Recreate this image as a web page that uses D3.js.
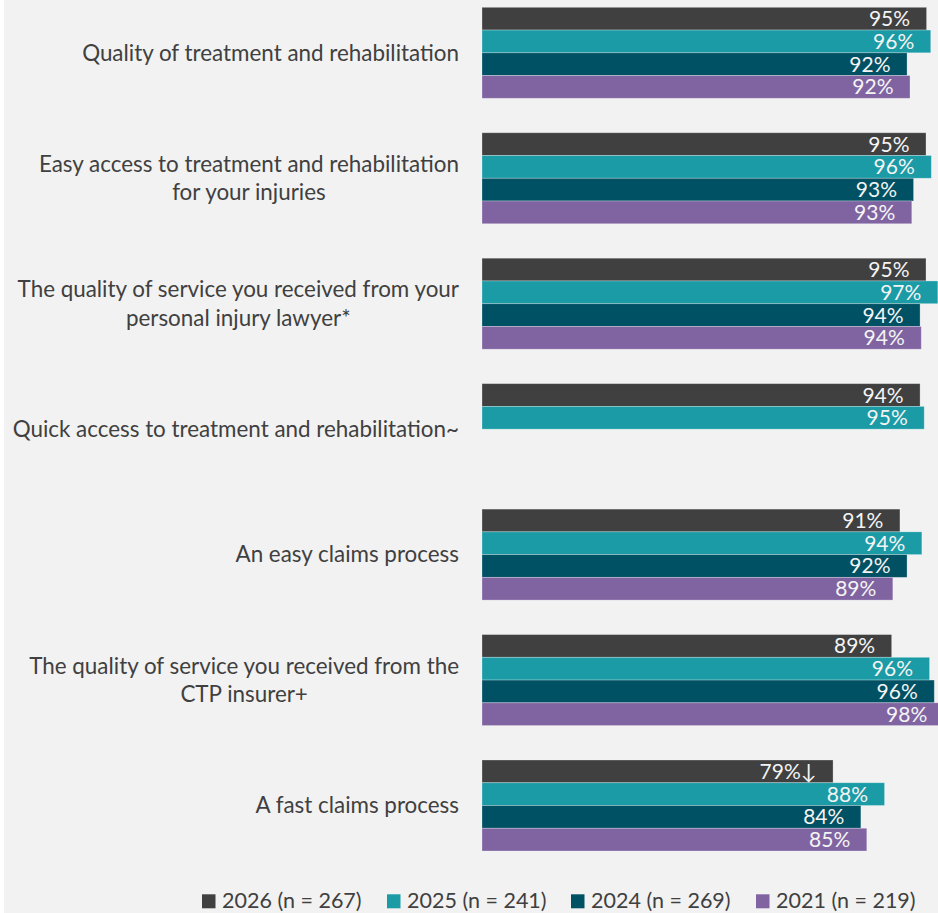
<!DOCTYPE html>
<html>
<head>
<meta charset="utf-8">
<script src="https://cdn.jsdelivr.net/npm/d3@7"></script>
<style>
  html, body { margin: 0; padding: 0; background: #ffffff; }
  svg { display: block; }
</style>
</head>
<body>
<svg id="chart" width="938" height="913"></svg>
<script>
// ---- data ----
const categories = [
  "Quality of treatment and rehabilitation",
  "Easy access to treatment and rehabilitation\nfor your injuries",
  "The quality of service you received from your\npersonal injury lawyer*",
  "Quick access to treatment and rehabilitation~",
  "An easy claims process",
  "The quality of service you received from the\nCTP insurer+",
  "A fast claims process"
];
const seriesNames = ["2026 (n = 267)", "2025 (n = 241)", "2024 (n = 269)", "2021 (n = 219)"];
const seriesColors = ["#404040", "#1a9ba6", "#005163", "#8064a2"];
const values2026 = [95.1, 95.0, 95.0, 94.0, 90.6, 89.2, 79.3];
const values2025 = [95.8, 95.9, 97.0, 94.7, 94.3, 95.6, 88.0];
const values2024 = [91.8, 92.9, 94.0, null, 91.8, 96.4, 84.0];
const values2021 = [92.3, 92.6, 94.2, null, 89.4, 98.0, 85.0];
const markers2026 = ["", "", "", "", "", "", "\u2193"];
const seriesValues = [values2026, values2025, values2024, values2021];
const seriesMarkers = [markers2026, [], [], []];
const xDomain = [20, 100];

// ---- layout ----
const svg = d3.select("#chart");
const W = 938, H = 913;
const fontFamily = "Lato, 'Open Sans', sans-serif";

svg.append("rect").attr("x", 4).attr("y", 0).attr("width", W - 4).attr("height", H).attr("fill", "#f2f2f2");

const x = d3.scaleLinear().domain(xDomain).range([482, 955.6]);
const y = d3.scaleBand().domain(categories).range([7.3, 851]).paddingInner(0.2746).paddingOuter(0);
const ySub = d3.scaleBand().domain(seriesNames).range([0, y.bandwidth()]).padding(0);

const rows = [];
categories.forEach((c, i) => {
  seriesNames.forEach((s, j) => {
    const v = seriesValues[j][i];
    if (v !== null && v !== undefined) {
      rows.push({cat: c, series: s, j: j, v: v, mark: (seriesMarkers[j][i] || "")});
    }
  });
});

const g = svg.append("g");

g.selectAll("rect.bar").data(rows).join("rect")
  .attr("class", "bar")
  .attr("x", x(xDomain[0]))
  .attr("y", d => y(d.cat) + ySub(d.series))
  .attr("width", d => x(d.v) - x(xDomain[0]))
  .attr("height", ySub.bandwidth())
  .attr("fill", d => seriesColors[d.j])
  .attr("stroke", "rgba(255,255,255,0.35)")
  .attr("stroke-width", 0.8);

g.selectAll("text.val").data(rows).join("text")
  .attr("class", "val")
  .attr("x", d => x(d.v) - 16.5)
  .attr("y", d => y(d.cat) + ySub(d.series) + ySub.bandwidth() / 2 + 7.5)
  .attr("text-anchor", "end")
  .attr("fill", "#f4f4f4")
  .attr("font-family", fontFamily)
  .attr("font-size", 21)
  .text(d => Math.round(d.v) + "%" + d.mark);

// category labels
const lineH = 28.5, capH = 15.5;
categories.forEach(c => {
  const lines = c.split("\n");
  const center = y(c) + y.bandwidth() / 2;
  const blockH = capH + (lines.length - 1) * lineH;
  const firstBase = center - blockH / 2 + capH;
  const t = svg.append("text")
    .attr("text-anchor", "middle")
    .attr("fill", "#404040")
    .attr("font-family", fontFamily)
    .attr("font-size", 22.4);
  lines.forEach((ln, k) => {
    t.append("tspan").attr("x", 0).attr("y", firstBase + k * lineH).text(ln);
  });
  const bb = t.node().getBBox();
  const w = bb.width;
  t.selectAll("tspan").attr("x", 459 - w / 2);
});

// legend
const legendX = [202, 387, 571, 756];
const lg = svg.append("g");
seriesNames.forEach((s, j) => {
  lg.append("rect").attr("x", legendX[j]).attr("y", 894.3).attr("width", 13.5).attr("height", 14)
    .attr("fill", seriesColors[j]);
  lg.append("text").attr("x", legendX[j] + 20).attr("y", 908.3)
    .attr("fill", "#404040").attr("font-family", fontFamily).attr("font-size", 21.5)
    .text(s);
});
</script>
</body>
</html>
